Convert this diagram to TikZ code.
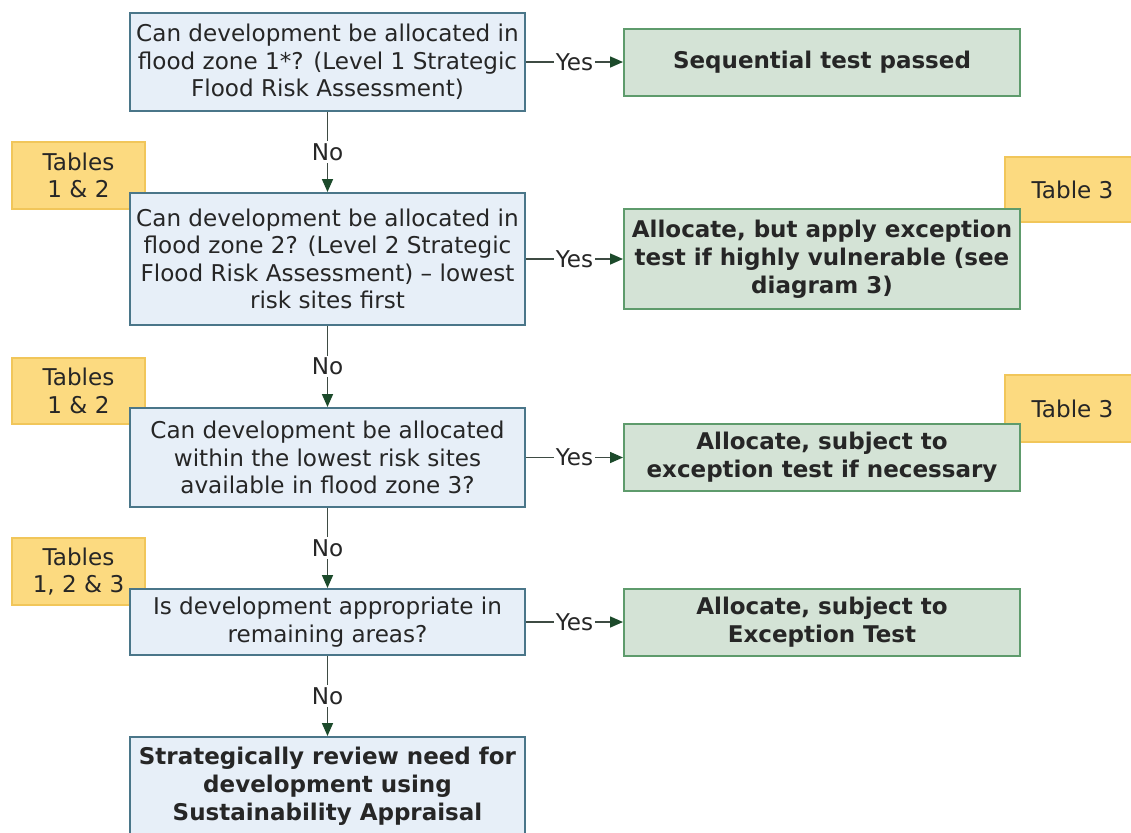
\documentclass[tikz,border=0pt]{standalone}
\usepackage{fontspec}
\setmainfont{DejaVu Sans}
\usetikzlibrary{arrows.meta}
\definecolor{qfill}{HTML}{E7EFF8}
\definecolor{qline}{HTML}{4A7689}
\definecolor{rfill}{HTML}{D4E3D6}
\definecolor{rline}{HTML}{5E9B6C}
\definecolor{yfill}{HTML}{FCDA80}
\definecolor{yline}{HTML}{F1C65A}
\definecolor{cline}{HTML}{3E4B43}
\definecolor{chead}{HTML}{1C4A2B}
\definecolor{txt}{HTML}{262626}
\begin{document}
\begin{tikzpicture}[x=0.5pt,y=-0.5pt,
 base/.style={rectangle, inner sep=0pt, align=center, text=txt, line width=1pt},
 qbox/.style={base, draw=qline, fill=qfill, minimum width=197.5pt, font=\fontsize{11.55}{13.75}\selectfont},
 qbold/.style={qbox, font=\fontsize{11.5}{14}\bfseries\selectfont},
 rbox/.style={base, draw=rline, fill=rfill, minimum width=198pt, font=\fontsize{11.5}{14}\bfseries\selectfont},
 tag/.style={base, draw=yline, fill=yfill, font=\fontsize{11.55}{13.75}\selectfont},
 conn/.style={draw=cline, line width=0.8pt, -{Triangle[length=6.5pt,width=5.5pt,color=chead]}},
 lbl/.style={fill=white, inner sep=1pt, text=txt, font=\fontsize{11.55}{13.75}\selectfont}
]
\useasboundingbox (0,0) rectangle (1131,832);
\clip (0,0) rectangle (1131,832);
\fill[white] (0,0) rectangle (1131,832);

% yellow tags (behind)
\node[tag, minimum width=66.5pt, minimum height=33.5pt] (T1) at (78.5,175.5) {Tables\\1 \& 2};
\node[tag, minimum width=66.5pt, minimum height=33pt] (T2) at (78.5,391) {Tables\\1 \& 2};
\node[tag, minimum width=66.5pt, minimum height=33.5pt] (T3) at (78.5,571.5) {Tables\\1, 2 \& 3};
\node[tag, minimum width=67.5pt, minimum height=32.5pt] (T4) at (1072.5,189.5) {Table 3};
\node[tag, minimum width=67.5pt, minimum height=33.5pt] (T5) at (1072.5,408.5) {Table 3};

% question boxes
\node[qbox, minimum height=49pt] (Q1) at (327.5,62) {Can development be allocated in\\flood zone 1*? (Level 1 Strategic\\Flood Risk Assessment)};
\node[qbox, minimum height=66pt] (Q2) at (327.5,259) {Can development be allocated in\\flood zone 2? (Level 2 Strategic\\Flood Risk Assessment) – lowest\\risk sites first};
\node[qbox, minimum height=49.5pt] (Q3) at (327.5,457.5) {Can development be allocated\\within the lowest risk sites\\available in flood zone 3?};
\node[qbox, minimum height=33pt] (Q4) at (327.5,622) {Is development appropriate in\\remaining areas?};
\node[qbold, minimum height=49pt] (Q5) at (327.5,786) {Strategically review need for\\development using\\Sustainability Appraisal};

% result boxes
\node[rbox, minimum height=33.5pt] (R1) at (822,62) {Sequential test passed};
\node[rbox, minimum height=50pt] (R2) at (822,259) {Allocate, but apply exception\\test if highly vulnerable (see\\diagram 3)};
\node[rbox, minimum height=33.5pt] (R3) at (822,457.5) {Allocate, subject to\\exception test if necessary};
\node[rbox, minimum height=33.5pt] (R4) at (822,622) {Allocate, subject to\\Exception Test};

% connectors
\draw[conn] (Q1) -- node[lbl]{No} (Q2);
\draw[conn] (Q2) -- node[lbl]{No} (Q3);
\draw[conn] (Q3) -- node[lbl]{No} (Q4);
\draw[conn] (Q4) -- node[lbl]{No} (Q5);
\draw[conn] (Q1) -- node[lbl]{Yes} (R1);
\draw[conn] (Q2) -- node[lbl]{Yes} (R2);
\draw[conn] (Q3) -- node[lbl]{Yes} (R3);
\draw[conn] (Q4) -- node[lbl]{Yes} (R4);
\end{tikzpicture}
\end{document}
